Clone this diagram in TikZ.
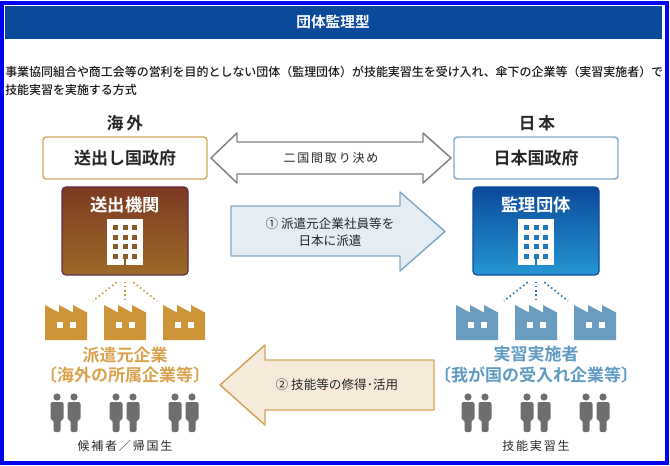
\documentclass[tikz,border=0pt]{standalone}
\usepackage{fontspec}
\setmainfont{Noto Sans CJK JP}[BoldFont={Noto Sans CJK JP Medium}]
\newfontfamily\heavyfont{Noto Sans CJK JP Bold}
\usetikzlibrary{positioning}
\definecolor{framecol}{RGB}{0,0,240}
\definecolor{headcol}{RGB}{11,74,155}
\definecolor{goldline}{RGB}{210,166,90}
\definecolor{blueline}{RGB}{127,169,196}
\definecolor{goldfact}{RGB}{206,149,56}
\definecolor{bluefact}{RGB}{106,156,191}
\definecolor{goldtext}{RGB}{217,162,78}
\definecolor{bluetext}{RGB}{94,154,194}
\definecolor{personcol}{RGB}{110,110,110}
\definecolor{brownwin}{RGB}{138,90,40}
\definecolor{bluewin}{RGB}{31,120,184}
\definecolor{orgbrowntop}{RGB}{124,58,34}
\definecolor{orgbrownbot}{RGB}{156,106,40}
\definecolor{orgbrownline}{RGB}{96,44,70}
\definecolor{orgbluebot}{RGB}{37,150,209}
\definecolor{arrowblue}{RGB}{228,236,244}
\definecolor{arrowgold}{RGB}{246,234,218}
\begin{document}
\begin{tikzpicture}[x=0.75pt,y=-0.75pt]
  \tikzstyle{govbox}=[draw,line width=1.1pt,rounded corners=2.5pt,fill=white,minimum width=123pt,minimum height=31.5pt,inner sep=0pt,font=\fontsize{12.75}{15}\selectfont\heavyfont]
  \tikzstyle{orgbox}=[rounded corners=3pt,line width=0.9pt,draw,minimum width=94.5pt,minimum height=66pt,inner sep=0pt]
  \tikzstyle{orglabel}=[white,inner sep=0pt,font=\fontsize{13}{15}\selectfont\heavyfont]
  \tikzstyle{side}=[inner sep=0pt,text=black!85,font=\fontsize{12.5}{14}\selectfont\heavyfont]
  \tikzstyle{firm}=[inner sep=0pt,font=\fontsize{12.75}{15}\selectfont\heavyfont]
  \tikzstyle{small}=[inner sep=0pt,text=black!85,font=\fontsize{9}{11}\selectfont\addfontfeature{LetterSpace=15}]
  \tikzstyle{arrowtext}=[inner sep=0pt,text=black!85,align=center,font=\fontsize{9.45}{12.4}\selectfont]
  \tikzstyle{bigarrow}=[line width=1.1pt,line join=round]
  \tikzstyle{tie}=[dotted,line width=1.2pt]

  \path[use as bounding box] (0,0) rectangle (670,466);
  \draw[framecol,line width=3pt] (2,3) rectangle (666.5,463);
  \fill[headcol] (5,6) rectangle (662,39);
  \node[white,inner sep=0pt,font=\fontsize{11}{13}\selectfont\heavyfont] (title) at (333,22) {団体監理型};
  \node[inner sep=0pt,anchor=north west,align=left,text=black!90,font=\fontsize{8.97}{13.5}\selectfont\bfseries] (intro) at (5,65.5)
    {事業協同組合や商工会等の営利を目的としない団体（監理団体）が技能実習生を受け入れ、傘下の企業等（実習実施者）で\\技能実習を実施する方式};

  \node[side] (abroad) at (125,123) {海\,外};
  \node[side] (japan) at (537,123) {日\,本};
  \node[govbox,draw=goldline,text=black!85] (sendgov) at (125,158) {送出し国政府};
  \node[govbox,draw=blueline,text=black!85] (japangov) at (536,158) {日本国政府};

  \draw[bigarrow,draw=black!50,fill=white] (211,158) -- (237,133) -- (237,142) -- (423,142) -- (423,133)
    -- (451,158) -- (423,183) -- (423,174) -- (237,174) -- (237,183) -- cycle;
  \node[small] (accord) at (331,158) {二国間取り決め};

  \node[orgbox,draw=orgbrownline,top color=orgbrowntop,bottom color=orgbrownbot] (sendorg) at (125,231) {};
  \node[orgbox,draw=headcol,top color=headcol,bottom color=orgbluebot] (superorg) at (536,231) {};
  \node[orglabel] (sendname) at (125,205) {送出機関};
  \node[orglabel] (supername) at (536,205) {監理団体};

  \foreach \cx/\wincol in {125/brownwin,536/bluewin} {
    \fill[white] ({\cx-18},219) rectangle ({\cx+18},265);
    \foreach \dx in {-9.5,0,9.5}
      \foreach \wy in {225,235,244,254}
        \fill[\wincol] ({\cx+\dx-2.5},\wy) rectangle ({\cx+\dx+2.5},{\wy+5});
    \fill[\wincol] ({\cx-1.2},254) rectangle ({\cx+1.2},265);
  }

  \draw[bigarrow,draw=blueline,fill=arrowblue] (231,206) -- (400,206) -- (400,192) -- (445,231.5)
    -- (400,271) -- (400,256) -- (231,256) -- cycle;
  \node[arrowtext] (dispatch) at (330,232) {① 派遣元企業社員等を\\日本に派遣};

  \draw[bigarrow,draw=goldline,fill=arrowgold] (220,385) -- (265,345) -- (265,360) -- (434,360) -- (434,410)
    -- (265,410) -- (265,425) -- cycle;
  \node[arrowtext] (skills) at (337,385) {② 技能等の修得･活用};

  \foreach \fx/\fcol in {45/goldfact,104/goldfact,163/goldfact,456/bluefact,515/bluefact,574/bluefact} {
    \fill[\fcol] (\fx,305) -- ({\fx+14},312.5) -- ({\fx+14},305) -- ({\fx+28},312.5) -- ({\fx+28},305)
      -- ({\fx+42},312.5) -- ({\fx+42},340) -- (\fx,340) -- cycle;
    \fill[white] ({\fx+12},322) rectangle ({\fx+18},328);
    \fill[white] ({\fx+25},322) rectangle ({\fx+31},328);
  }

  \coordinate (sendend_a) at (93,301);
  \coordinate (sendend_b) at (125,301);
  \coordinate (sendend_c) at (157,301);
  \coordinate (superend_a) at (504,301);
  \coordinate (superend_b) at (536,301);
  \coordinate (superend_c) at (568,301);
  \draw[tie,goldfact,shorten <=8pt] (sendorg.south) -- (sendend_a);
  \draw[tie,goldfact,shorten <=4.5pt] (sendorg.south) -- (sendend_b);
  \draw[tie,goldfact,shorten <=8pt] (sendorg.south) -- (sendend_c);
  \draw[tie,bluewin,shorten <=8pt] (superorg.south) -- (superend_a);
  \draw[tie,bluewin,shorten <=4.5pt] (superorg.south) -- (superend_b);
  \draw[tie,bluewin,shorten <=8pt] (superorg.south) -- (superend_c);

  \node[firm,goldtext] (sendfirm) at (125,355) {派遣元企業};
  \node[firm,goldtext] (sendfirmsub) at (125,375) {〔海外の所属企業等〕};
  \node[firm,bluetext] (hostfirm) at (536,354) {実習実施者};
  \node[firm,bluetext] (hostfirmsub) at (536,375) {〔我が国の受入れ企業等〕};

  \foreach \px in {57,74,116,133,175,192,468,485,527,544,586,603} {
    \fill[personcol] (\px,397) circle (2.7pt);
    \fill[personcol,rounded corners=1.5pt] ({\px-6.5},402) -- ({\px+6.5},402) -- ({\px+6.5},420) -- ({\px+3.5},420)
      -- ({\px+3.5},432) -- ({\px-3.5},432) -- ({\px-3.5},420) -- ({\px-6.5},420) -- cycle;
  }

  \node[small] (returnee) at (125,446) {候補者／帰国生};
  \node[small] (trainee) at (536,446) {技能実習生};
\end{tikzpicture}
\end{document}
